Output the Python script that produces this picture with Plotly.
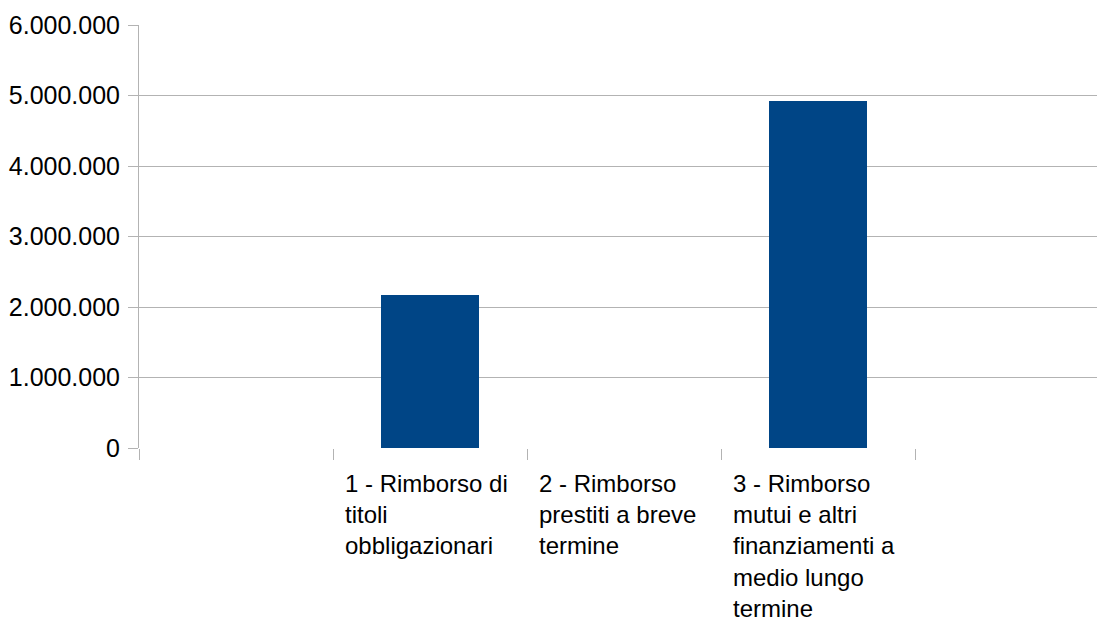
import plotly.graph_objects as go

# Data
categories = [
    "1 - Rimborso di titoli obbligazionari",
    "2 - Rimborso prestiti a breve termine",
    "3 - Rimborso mutui e altri finanziamenti a medio lungo termine",
]
tick_labels = [
    "1 - Rimborso di<br>titoli<br>obbligazionari",
    "2 - Rimborso<br>prestiti a breve<br>termine",
    "3 - Rimborso<br>mutui e altri<br>finanziamenti a<br>medio lungo<br>termine",
]
positions = [1, 2, 3]
values = [2173000, 0, 4920000]
y_ticks = [0, 1000000, 2000000, 3000000, 4000000, 5000000, 6000000]

BAR = "#004586"
GRID = "#b3b3b3"
FONT = "Liberation Sans, Arial, sans-serif"

fig = go.Figure()
fig.add_trace(go.Bar(
    x=positions, y=values, width=0.505,
    marker=dict(color=BAR, line=dict(width=0)),
    hovertext=categories, showlegend=False,
))

for p, lab in zip(positions, tick_labels):
    fig.add_annotation(
        x=p - 0.5, xref="x", y=0, yref="paper",
        text=lab, showarrow=False, xanchor="left", yanchor="top",
        align="left", xshift=10, yshift=-20,
        font=dict(family=FONT, size=24, color="black"),
    )

fig.update_layout(
    width=1097, height=623,
    margin=dict(l=139, r=0, t=25, b=175),
    paper_bgcolor="white", plot_bgcolor="white",
    separators=",.",
    font=dict(family=FONT, size=24, color="black"),
    bargap=0,
)
fig.update_xaxes(
    range=[-0.5, 4.438], automargin=False,
    tickmode="array", tickvals=[-0.5, 0.5, 1.5, 2.5, 3.5],
    showticklabels=False, ticks="outside", ticklen=11, tickcolor=GRID, tickwidth=1,
    showgrid=False, zeroline=False, showline=False, fixedrange=True,
)
fig.update_yaxes(
    range=[0, 6000000], tickmode="array", tickvals=y_ticks, automargin=False,
    tickformat=",d", showgrid=True, gridcolor=GRID, gridwidth=1,
    ticks="outside", ticklen=10, tickcolor=GRID, tickwidth=1,
    showline=True, linecolor=GRID, linewidth=1,
    zeroline=False, ticklabelstandoff=3,
    tickfont=dict(family=FONT, size=25, color="black"),
)

fig.write_html(
    "out.html",
    config={"displayModeBar": False},
    post_script="document.body.style.margin='0';document.body.style.overflow='hidden';",
)
